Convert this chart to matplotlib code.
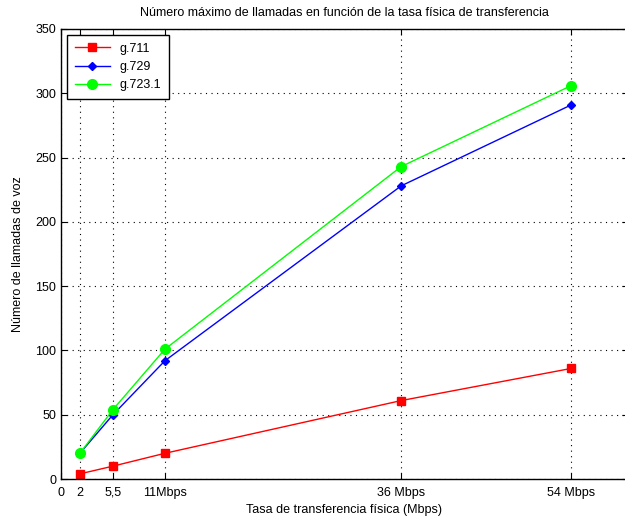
import matplotlib
matplotlib.use('Agg')
import matplotlib.pyplot as plt

# Datos
tasas = [2, 5.5, 11, 36, 54]
g711 = [4, 10, 20, 61, 86]
g729 = [20, 50, 92, 228, 291]
g7231 = [20, 54, 101, 243, 306]

xticks = [0, 2, 5.5, 11, 36, 54]
xlabels = ['0', '2', '5,5', '11Mbps', '36 Mbps', '54 Mbps']
yticks = [0, 50, 100, 150, 200, 250, 300, 350]

plt.rcParams['font.family'] = ['Liberation Sans', 'DejaVu Sans']
plt.rcParams['font.size'] = 9

fig = plt.figure(figsize=(6.25, 5.2), dpi=100)
ax = fig.add_axes([61/625, 41/520, 567/625, 450/520])

ax.plot(tasas, g711, color='#ff0000', marker='s', markersize=6, linewidth=1, label='g.711')
ax.plot(tasas, g729, color='#0000ff', marker='D', markersize=4.5, linewidth=1, label='g.729')
ax.plot(tasas, g7231, color='#00ff00', marker='o', markersize=7, linewidth=1, label='g.723.1')

ax.set_xlim(0, 60)
ax.set_ylim(0, 350)
ax.set_xticks(xticks)
ax.set_xticklabels(xlabels)
ax.set_yticks(yticks)
ax.tick_params(direction='in', top=True, right=True, length=4)
ax.tick_params(axis='x', pad=12)
for t in ax.get_xticklabels():
    t.set_verticalalignment('baseline')
ax.grid(True, linestyle=(0, (1, 4)), color='black', linewidth=0.8)
for s in ax.spines.values():
    s.set_linewidth(1)

ax.set_title('Número máximo de llamadas en función de la tasa física de transferencia',
             fontsize=9, pad=9)
ax.set_xlabel('Tasa de transferencia física (Mbps)', labelpad=4)
ax.set_ylabel('Número de llamadas de voz', labelpad=8)

leg = ax.legend(loc='upper left', fancybox=False, edgecolor='black', framealpha=1,
                borderaxespad=0.5, handlelength=2.8, labelspacing=0.5, borderpad=0.6)
leg.get_frame().set_linewidth(1)

fig.savefig('out.png', dpi=100)
